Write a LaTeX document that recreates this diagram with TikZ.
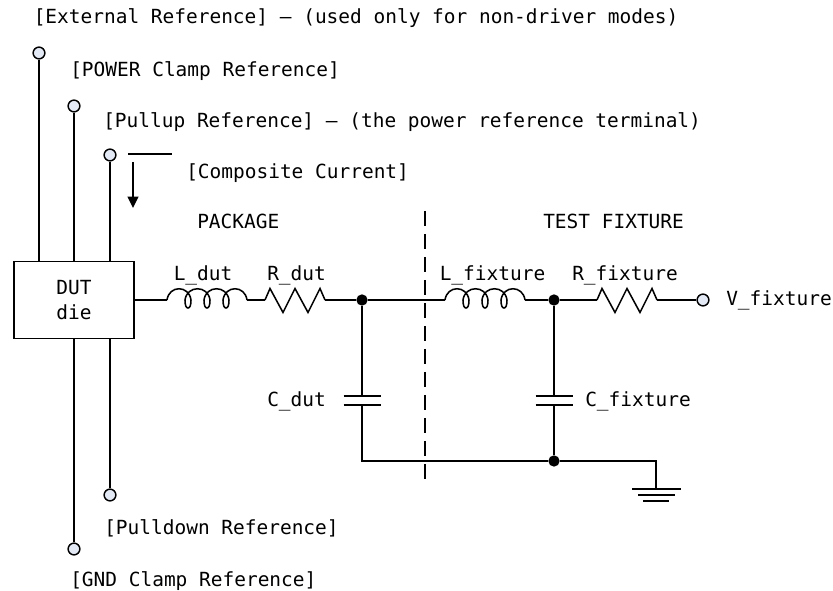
\documentclass[tikz,border=0pt]{standalone}
\usepackage{fontspec}
\setmonofont{DejaVu Sans Mono}
\usetikzlibrary{arrows.meta}
\definecolor{termfill}{HTML}{E4EAF5}
\tikzset{
    wire/.style={line width=1.15pt,black},
    txt/.style={anchor=base west,inner sep=0pt,font=\ttfamily\fontsize{14.6}{18.75}\selectfont},
    term/.style={circle,draw,line width=1.1pt,fill=termfill,minimum size=8.8pt,inner sep=0pt},
    junction/.style={circle,fill=black,minimum size=8.5pt,inner sep=0pt},
    coil/.pic={
        \coordinate (-a) at (0,0);
        \coordinate (-b) at (80,0);
        \draw[wire] (0,0) .. controls (2,-15) and (22,-15) .. (24,0)
            .. controls (24,5) and (23,8) .. (21,8) .. controls (19,8) and (18,5) .. (18,0)
            .. controls (20,-15) and (41,-15) .. (43,0)
            .. controls (43,5) and (42,8) .. (40,8) .. controls (38,8) and (37,5) .. (37,0)
            .. controls (39,-15) and (60,-15) .. (62,0)
            .. controls (62,5) and (61,8) .. (59,8) .. controls (57,8) and (56,5) .. (56,0)
            .. controls (58,-15) and (78,-15) .. (80,0);
    },
    zigzag/.pic={
        \coordinate (-a) at (0,0);
        \coordinate (-b) at (60,0);
        \draw[wire,line join=miter] (0,0) -- (5,-11.5) -- (18,12.5) -- (30,-11.5) -- (43,12.5) -- (55,-11.5) -- (60,0);
    },
    plates/.pic={
        \coordinate (-a) at (0,0);
        \coordinate (-b) at (0,9);
        \draw[wire] (-18.5,0) -- (18.5,0);
        \draw[wire] (-18.5,9) -- (18.5,9);
    }
}
\begin{document}
\begin{tikzpicture}[x=0.75pt,y=-0.75pt]
    \useasboundingbox (0,0) rectangle (833,591);

    \node[draw,wire,minimum width=90pt,minimum height=57.75pt,inner sep=0pt,align=center,
        font=\ttfamily\fontsize{14.6}{18.75}\selectfont] (dut) at (74,300) {DUT\\die};

    \node[term] (extref) at (39,53) {};
    \node[term] (pwrclamp) at (74,106) {};
    \node[term] (pullup) at (110,155) {};
    \node[term] (pulldown) at (110,495) {};
    \node[term] (gndclamp) at (74,549) {};
    \node[term] (vfix) at (703,300) {};

    \draw[wire] (extref) -- (extref |- dut.north);
    \draw[wire] (pwrclamp) -- (pwrclamp |- dut.north);
    \draw[wire] (pullup) -- (pullup |- dut.north);
    \draw[wire] (pulldown) -- (pulldown |- dut.south);
    \draw[wire] (gndclamp) -- (gndclamp |- dut.south);

    \pic (ldut) at (167,300) {coil};
    \pic (rdut) at (265,300) {zigzag};
    \pic (lfix) at (445,300) {coil};
    \pic (rfix) at (597,300) {zigzag};
    \pic (cdut) at (362,396) {plates};
    \pic (cfix) at (554,396) {plates};

    \node[junction] (topl) at (362,300) {};
    \node[junction] (topr) at (554,300) {};
    \node[junction] (botr) at (554,461) {};
    \coordinate (botl) at (362,461);
    \coordinate (corner) at (656,461);
    \coordinate (gnd) at (656,489);

    \draw[wire] (dut.east) -- (ldut-a);
    \draw[wire] (ldut-b) -- (rdut-a);
    \draw[wire] (rdut-b) -- (topl);
    \draw[wire] (topl) -- (lfix-a);
    \draw[wire] (lfix-b) -- (topr);
    \draw[wire] (topr) -- (rfix-a);
    \draw[wire] (rfix-b) -- (vfix);
    \draw[wire] (topl) -- (cdut-a);
    \draw[wire] (topr) -- (cfix-a);
    \draw[wire] (cdut-b) -- (botl) -- (botr);
    \draw[wire] (cfix-b) -- (botr);
    \draw[wire] (botr) -- (corner) -- (gnd);

    \draw[wire] (632,489) -- (681,489);
    \draw[wire] (638,495) -- (675,495);
    \draw[wire] (643,501) -- (669,501);

    \draw[wire,dash pattern=on 11.25pt off 6pt] (425,211) -- (425,480);

    \draw[wire] (128,154) -- (172,154);
    \draw[wire,-{Triangle[length=8.5pt,width=8pt]}] (133,162) -- (133,208);

    \node[txt] (lblext) at (33.5,24) {[External Reference] – (used only for non-driver modes)};
    \node[txt] (lblpwr) at (70,77) {[POWER Clamp Reference]};
    \node[txt] (lblup) at (103,128) {[Pullup Reference] – (the power reference terminal)};
    \node[txt] (lblcomp) at (186,178.5) {[Composite Current]};
    \node[txt] (lblpkg) at (197,228.5) {PACKAGE};
    \node[txt] (lbltest) at (543,228.5) {TEST FIXTURE};
    \node[txt] (lblldut) at (173.5,281) {L\_dut};
    \node[txt] (lblrdut) at (267,281) {R\_dut};
    \node[txt] (lbllfix) at (439.5,281) {L\_fixture};
    \node[txt] (lblrfix) at (572,281) {R\_fixture};
    \node[txt] (lblvfix) at (726,306) {V\_fixture};
    \node[txt] (lblcdut) at (267,407) {C\_dut};
    \node[txt] (lblcfix) at (585,407) {C\_fixture};
    \node[txt] (lbldown) at (104,535) {[Pulldown Reference]};
    \node[txt] (lblgnd) at (70,587) {[GND Clamp Reference]};
\end{tikzpicture}
\end{document}
